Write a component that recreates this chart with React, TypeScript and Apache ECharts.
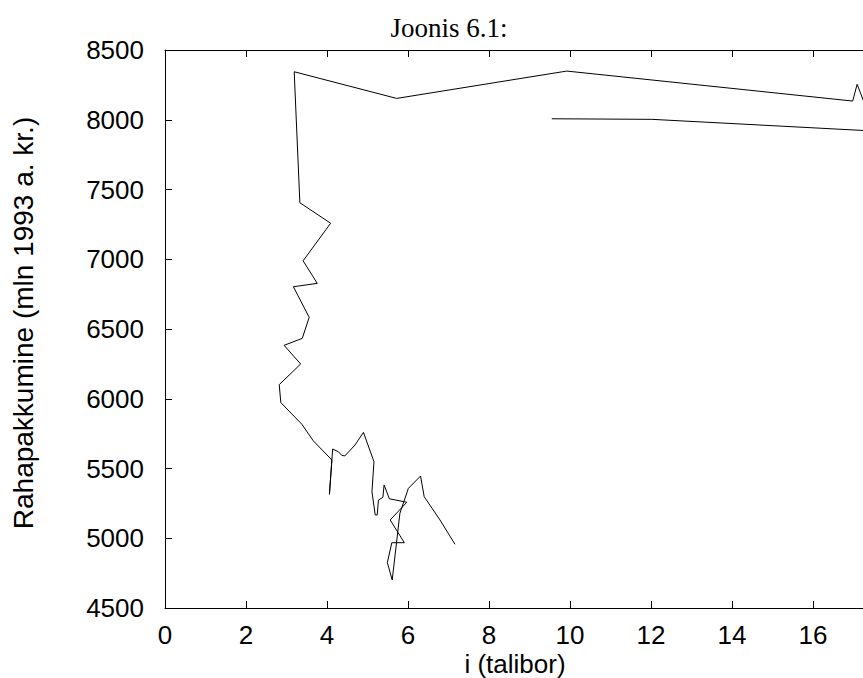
import React, { useEffect, useRef } from "react";
import * as echarts from "echarts";

// interest rate (x) and money supply (y), in path order
const rateValues: number[] = [
  7.16, 6.79, 6.4, 6.31, 6.01, 5.8, 5.61, 5.49, 5.6, 5.91, 5.56, 5.97, 5.54, 5.41, 5.38, 5.27,
  5.24, 5.19, 5.11, 5.16, 4.9, 4.69, 4.44, 4.36, 4.28, 4.14, 4.06, 4.12, 3.66, 3.38, 2.86, 2.82,
  3.35, 2.94, 3.39, 3.56, 3.17, 3.76, 3.41, 4.09, 3.33, 3.19, 5.72, 9.92, 16.98, 17.09, 17.32,
  17.45, 12.02, 9.55,
];
const moneyValues: number[] = [
  4957, 5131, 5298, 5446, 5358, 5179, 4701, 4825, 4968, 4968, 5131, 5258, 5283, 5382, 5293, 5274,
  5167, 5167, 5334, 5549, 5759, 5668, 5590, 5595, 5620, 5640, 5315, 5561, 5699, 5817, 5972, 6101,
  6249, 6383, 6433, 6584, 6803, 6827, 6989, 7258, 7405, 8344, 8153, 8349, 8134, 8254, 8080,
  7920, 8003, 8007,
];

const titleText = "Joonis 6.1:";
const xName = "i (talibor)";
const yName = "Rahapakkumine (mln 1993 a. kr.)";

export default function App() {
  const ref = useRef<HTMLDivElement>(null);
  useEffect(() => {
    if (!ref.current) return;
    const chart = echarts.init(ref.current, undefined, { renderer: "svg" });
    const data = rateValues.map((x, i) => [x, moneyValues[i]]);
    const sans = "Liberation Sans, Arial, Helvetica, sans-serif";
    const axisLine = { show: true, lineStyle: { color: "#000", width: 1 } };
    const axisTick = { show: true, inside: true, length: 7, lineStyle: { color: "#000", width: 1 } };
    chart.setOption({
      animation: false,
      backgroundColor: "#fff",
      grid: { left: 165, top: 50, height: 558, width: 729, outerBoundsMode: "none", containLabel: false },
      graphic: [
        {
          type: "text",
          x: 449,
          y: 28,
          style: {
            text: titleText,
            font: "27px 'Liberation Serif', 'Times New Roman', serif",
            fill: "#000",
            textAlign: "center",
            textVerticalAlign: "middle",
          },
        },
        {
          type: "text",
          x: 515,
          y: 664,
          style: {
            text: xName,
            font: "26px " + sans,
            fill: "#000",
            textAlign: "center",
            textVerticalAlign: "middle",
          },
        },
        {
          type: "text",
          x: 23,
          y: 323,
          rotation: Math.PI / 2,
          style: {
            text: yName,
            font: "28px " + sans,
            fill: "#000",
            textAlign: "center",
            textVerticalAlign: "middle",
          },
        },
      ],
      xAxis: [
        {
          type: "value",
          position: "bottom",
          min: 0,
          max: 18,
          interval: 2,
          axisLine,
          axisTick,
          splitLine: { show: false },
          axisLabel: {
            color: "#000",
            fontSize: 26,
            fontFamily: sans,
            margin: 14,
            formatter: (v: number) => (v >= 18 ? "" : String(v)),
          },
        },
        {
          type: "value",
          position: "top",
          min: 0,
          max: 18,
          interval: 2,
          axisLine,
          axisTick,
          splitLine: { show: false },
          axisLabel: { show: false },
        },
      ],
      yAxis: [
        {
          type: "value",
          min: 4500,
          max: 8500,
          interval: 500,
          axisLine,
          axisTick,
          splitLine: { show: false },
          axisLabel: {
            color: "#000",
            fontSize: 26,
            fontFamily: sans,
            margin: 21,
            formatter: (v: number) => String(v),
          },
        },
      ],
      series: [
        {
          type: "line",
          data,
          showSymbol: false,
          symbol: "none",
          clip: true,
          lineStyle: { color: "#000", width: 1 },
          xAxisIndex: 0,
          yAxisIndex: 0,
        },
      ],
    });
    return () => chart.dispose();
  }, []);
  return (
    <div
      ref={ref}
      style={{ position: "absolute", left: 0, top: 0, width: 863, height: 678 }}
    />
  );
}
